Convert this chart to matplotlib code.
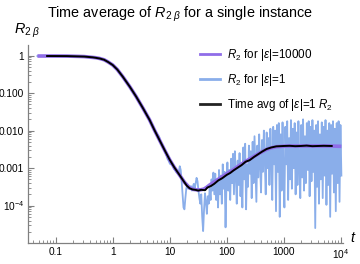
import numpy as np
import matplotlib.pyplot as plt

plt.rcParams['font.family'] = ['Liberation Sans', 'DejaVu Sans']
plt.rcParams['mathtext.fontset'] = 'custom'
plt.rcParams['mathtext.rm'] = 'Liberation Sans'
plt.rcParams['mathtext.it'] = 'Liberation Sans:italic'

# ===== data (log10 values) =====
# R2 for |eps|=10000 (smooth)
purple_logt = [-1.32, -1.0, -0.8, -0.6, -0.5, -0.4, -0.3, -0.23, -0.15, -0.08, 0.0, 0.08,
               0.176, 0.3, 0.41, 0.53, 0.645, 0.73, 0.82, 0.91, 1.0, 1.08, 1.17, 1.26,
               1.35, 1.42, 1.47, 1.54, 1.6, 1.65, 1.70, 1.8, 1.9, 2.0, 2.11, 2.2, 2.3, 2.41,
               2.52, 2.61, 2.7, 2.78, 2.87, 3.0, 3.1, 3.28, 3.6, 3.81, 4.01]
purple_logr = [-0.01, -0.01, -0.012, -0.02, -0.025, -0.04, -0.055, -0.075, -0.11, -0.17, -0.25, -0.37,
               -0.56, -0.83, -1.09, -1.40, -1.71, -1.98, -2.25, -2.52, -2.78, -2.98, -3.18, -3.38,
               -3.53, -3.57, -3.58, -3.58, -3.56, -3.51, -3.45, -3.35, -3.25, -3.15, -3.05, -2.95, -2.85, -2.75,
               -2.65, -2.57, -2.50, -2.46, -2.43, -2.415, -2.41, -2.41, -2.41, -2.41, -2.42]

# R2 for |eps|=1: early part follows the smooth curve
blue_early_logt = [-1.32, -1.0, -0.8, -0.6, -0.5, -0.4, -0.3, -0.23, -0.15, -0.08, 0.0, 0.08,
                   0.176, 0.3, 0.41, 0.53, 0.645, 0.70]
blue_early_logr = [-0.01, -0.01, -0.012, -0.02, -0.025, -0.04, -0.055, -0.075, -0.11, -0.17, -0.25, -0.37,
                   -0.56, -0.83, -1.09, -1.40, -1.71, -1.86]
# noisy part, evenly spaced in log t from 0.75 to 4.01
blue_noise_logr = [
    -2.03, -2.06, -2.10, -2.13, -2.17, -2.27, -2.33, -2.38, -2.42, -2.47,
    -2.55, -2.62, -2.68, -2.76, -2.80, -2.86, -2.90, -2.88, -2.92, -2.98,
    -3.03, -3.05, -3.10, -3.12, -3.15, -3.10, -2.95, -3.05, -3.35, -3.70,
    -4.05, -4.10, -3.80, -3.55, -3.45, -3.55, -3.50,
    -3.52, -3.48, -3.60, -3.50, -3.42, -3.55, -3.40, -3.26, -3.35, -3.60,
    -3.80, -3.95, -3.70, -4.30, -4.68, -4.10, -3.67, -3.90, -4.22, -3.75,
    -3.95, -3.55, -3.85, -3.30, -3.60, -3.12, -3.70,
    -3.15, -3.85, -3.30, -4.05, -3.05, -3.70, -3.20, -3.95, -2.90, -3.55,
    -3.10, -4.58, -3.40, -2.85, -3.60, -3.05, -3.85, -2.75, -3.40, -2.62,
    -3.70, -2.55, -3.20, -3.95, -2.80, -3.45, -2.60, -3.75, -2.95, -4.05,
    -2.45, -3.30, -2.35, -4.10, -2.90, -3.50, -2.40, -3.15, -2.55, -3.80,
    -2.30, -3.40, -2.15, -3.00, -3.90, -2.40, -3.25, -2.10, -2.95, -3.65,
    -2.25, -3.10, -2.00, -2.80, -3.70, -2.05, -3.00, -2.20, -3.45, -1.95,
    -2.75, -3.85, -1.90, -2.90,
    -2.00, -4.15, -1.85, -3.10, -1.80, -4.30, -2.10, -3.60, -1.78, -3.20,
    -4.05, -1.90, -2.90, -1.75, -3.85, -2.20, -3.30, -1.72, -3.55, -1.95,
    -3.00, -1.80, -3.70, -2.05, -3.45, -1.75, -2.85, -3.80, -1.85, -3.25,
    -1.70, -3.60, -2.15, -3.40, -1.80, -3.05, -1.75, -3.75, -1.90, -3.35,
    -1.72, -3.10, -2.00, -4.60, -1.85, -3.50, -1.75, -3.95, -2.10, -3.30,
    -1.78, -3.80, -1.90, -3.20, -1.72, -3.98, -2.00, -3.45, -1.80, -4.30,
    -1.85, -3.15, -1.75, -3.65, -1.95, -4.15, -1.80, -3.40, -1.75, -3.90,
    -1.85, -3.20]

# time average of |eps|=1 R2
black_logt = [-1.15, -0.8, -0.5, -0.35, -0.23, -0.15, -0.08, 0.0, 0.08, 0.176, 0.3, 0.41, 0.53,
              0.645, 0.73, 0.82, 0.91, 1.0, 1.08, 1.17, 1.24, 1.3, 1.35, 1.4, 1.45, 1.5, 1.55,
              1.62, 1.66, 1.72, 1.78, 1.85, 1.92, 2.0, 2.06, 2.12, 2.2, 2.26, 2.33, 2.4, 2.48,
              2.55, 2.62, 2.7, 2.78, 2.87, 3.0, 3.1, 3.2, 3.3, 3.4, 3.5, 3.6, 3.7, 3.84]
black_logr = [-0.01, -0.012, -0.025, -0.045, -0.075, -0.11, -0.17, -0.25, -0.37, -0.56, -0.83, -1.09, -1.40,
              -1.71, -1.98, -2.25, -2.52, -2.78, -2.98, -3.18, -3.34, -3.47, -3.54, -3.57, -3.58, -3.60, -3.58,
              -3.59, -3.52, -3.48, -3.42, -3.33, -3.27, -3.18, -3.13, -3.06, -2.98, -2.92, -2.83, -2.79, -2.70,
              -2.63, -2.56, -2.49, -2.45, -2.42, -2.41, -2.405, -2.415, -2.41, -2.40, -2.415, -2.41, -2.405, -2.41]

x_ticks = [0.1, 1, 10, 100, 1000, 1e4]
x_ticklabels = ['0.1', '1', '10', '100', '1000', '$10^4$']
y_ticks = [1e-4, 1e-3, 1e-2, 1e-1, 1]
y_ticklabels = ['$10^{-4}$', '0.001', '0.010', '0.100', '1']

PURPLE = '#8f6de8'
BLUE = '#8aaeea'
AXIS = '#808080'


def main():
    fig = plt.figure(figsize=(3.6, 2.64), dpi=100)
    ax = fig.add_axes([0.0786, 0.0807, 0.874, 0.749])

    blue_t = np.concatenate([10 ** np.array(blue_early_logt),
                             np.logspace(0.75, 4.01, len(blue_noise_logr))])
    blue_r = 10 ** np.concatenate([blue_early_logr, blue_noise_logr])

    ax.plot(blue_t, blue_r, color=BLUE, lw=1.3, zorder=1)
    ax.plot(10 ** np.array(purple_logt), 10 ** np.array(purple_logr), color=PURPLE, lw=2.6,
            solid_capstyle='butt', zorder=2)
    ax.plot(10 ** np.array(black_logt), 10 ** np.array(black_logr), color='black', lw=1.4, zorder=3)

    ax.set_xscale('log')
    ax.set_yscale('log')
    ax.set_xlim(10 ** -1.48, 10 ** 4.037)
    ax.set_ylim(10 ** -4.99, 10 ** 0.285)

    ax.set_xticks(x_ticks)
    ax.set_xticklabels(x_ticklabels)
    ax.set_yticks(y_ticks)
    ax.set_yticklabels(y_ticklabels)

    for s in ['top', 'right']:
        ax.spines[s].set_visible(False)
    for s in ['left', 'bottom']:
        ax.spines[s].set_color(AXIS)
        ax.spines[s].set_linewidth(0.9)
    ax.tick_params(which='major', direction='in', length=4, width=0.8, color=AXIS,
                   labelsize=7.3, pad=3)
    ax.tick_params(which='minor', direction='in', length=2, width=0.6, color=AXIS)

    # legend handles
    h1, = ax.plot([], [], color=PURPLE, lw=2)
    h2, = ax.plot([], [], color=BLUE, lw=2)
    h3, = ax.plot([], [], color='#222222', lw=2)
    ax.legend([h1, h2, h3],
              [r'$R_2$ for $|\varepsilon|$=10000', r'$R_2$ for $|\varepsilon|$=1',
               r'Time avg of $|\varepsilon|$=1 $R_2$'],
              loc='upper left', bbox_to_anchor=(0.555, 0.822), bbox_transform=fig.transFigure,
              frameon=False, fontsize=8.4, handlelength=1.7, handletextpad=0.65,
              labelspacing=0.78, borderpad=0, borderaxespad=0)

    fig.text(0.5, 0.935, r'Time average of $R_{2\ \beta}$ for a single instance',
             ha='center', va='baseline', fontsize=10.4)
    fig.text(0.038, 0.872, r'$R_{2\ \beta}$', ha='left', va='baseline', fontsize=10.4)
    fig.text(0.972, 0.085, r'$t$', ha='left', va='baseline', fontsize=10.4)

    fig.savefig('out.png', dpi=100)
    plt.close(fig)


if __name__ == '__main__':
    main()
